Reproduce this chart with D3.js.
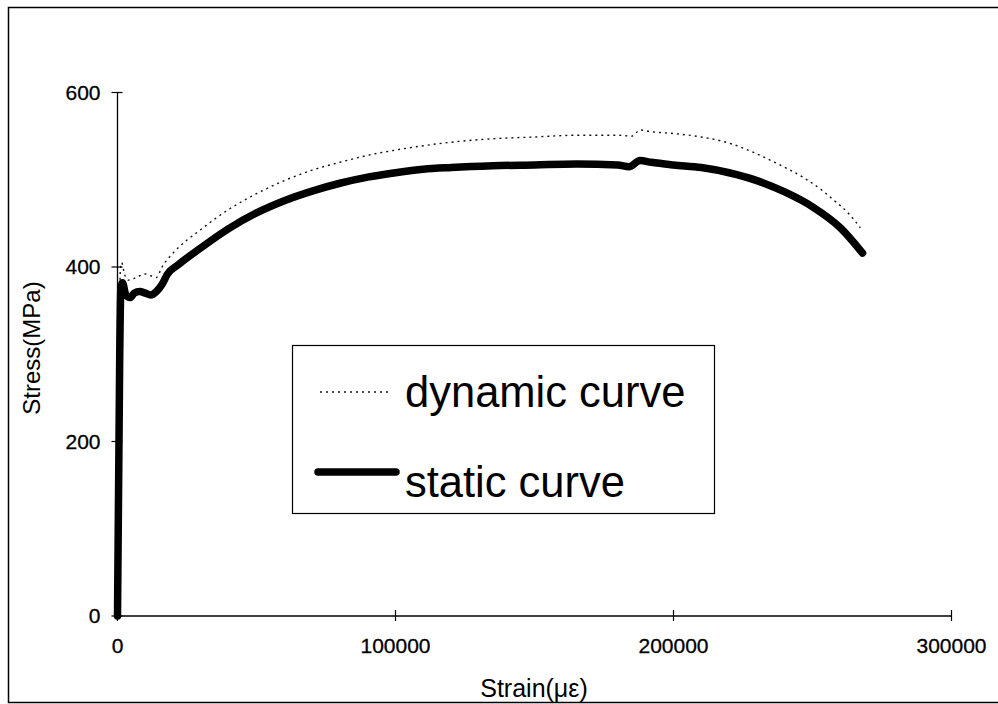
<!DOCTYPE html>
<html>
<head>
<meta charset="utf-8">
<script src="https://cdn.jsdelivr.net/npm/d3@7"></script>
<style>
  html, body { margin: 0; padding: 0; background: #fff; }
  svg { display: block; font-family: "Liberation Sans", Arial, sans-serif; }
</style>
</head>
<body>
<svg id="chart" width="998" height="704"></svg>
<script>
// Stress–strain curves (strain in microstrain, stress in MPa)
const staticStrain = [0, 800, 1200, 1800, 3000, 4500, 6000, 8000, 10000, 12000, 14000, 16000, 18000, 22000, 30000, 40000, 50000, 60000, 70000, 80000, 90000, 100000, 110000, 120000, 135000, 150000, 165000, 180000, 184000, 188000, 192000, 200000, 210000, 220000, 230000, 240000, 250000, 260000, 268000];
const staticStress = [0, 300, 375, 382, 368, 365, 370, 372, 370, 368, 372, 380, 392, 403, 422, 444, 462, 476, 487, 496, 503, 508, 512, 514, 516, 517, 518, 517, 515, 522, 520, 517, 514, 508, 499, 486, 469, 445, 416];

const dynamicStrain = [0, 600, 1000, 1500, 2500, 4000, 6000, 8000, 10000, 12000, 14000, 16000, 20000, 30000, 40000, 50000, 60000, 70000, 80000, 90000, 100000, 110000, 120000, 135000, 150000, 165000, 180000, 185000, 188000, 192000, 200000, 210000, 220000, 229000, 237000, 247000, 253000, 257500, 262500, 267200];
const dynamicStress = [0, 300, 395, 405, 392, 385, 387, 390, 392, 390, 388, 400, 416, 443, 466, 484, 499, 511, 520, 528, 534, 539, 543, 547, 549, 551, 551, 550, 557, 555, 553, 549, 542, 531, 519, 502, 489, 477, 463, 445];

const xTicks = [0, 100000, 200000, 300000];
const yTicks = [0, 200, 400, 600];
const seriesNames = ["dynamic curve", "static curve"];

const svg = d3.select("#chart");

// outer frame (runs off the right edge)
svg.append("rect")
  .attr("x", 8.5).attr("y", 7.5)
  .attr("width", 1010).attr("height", 695)
  .attr("fill", "none").attr("stroke", "#000").attr("stroke-width", 1.5);

const x = d3.scaleLinear().domain([0, 300000]).range([117.5, 951.5]);
const y = d3.scaleLinear().domain([0, 600]).range([616, 92.5]);

// axes with ticks crossing the axis line
const xAxis = svg.append("g").attr("transform", "translate(0,616)");
xAxis.append("line").attr("x1", x(0)).attr("x2", x(300000))
  .attr("stroke", "#000").attr("stroke-width", 1.3);
xAxis.selectAll("line.tick").data(xTicks).join("line")
  .attr("class", "tick")
  .attr("x1", d => x(d)).attr("x2", d => x(d))
  .attr("y1", -6).attr("y2", 5)
  .attr("stroke", "#000").attr("stroke-width", 1.2);
xAxis.selectAll("text").data(xTicks).join("text")
  .attr("x", d => x(d)).attr("y", 37)
  .attr("text-anchor", "middle")
  .attr("font-size", 21)
  .attr("stroke", "#000").attr("stroke-width", 0.3)
  .text(d => d3.format("d")(d));

const yAxis = svg.append("g").attr("transform", "translate(117.5,0)");
yAxis.append("line").attr("y1", y(0)).attr("y2", y(600))
  .attr("stroke", "#000").attr("stroke-width", 1.3);
yAxis.selectAll("line.tick").data(yTicks).join("line")
  .attr("class", "tick")
  .attr("y1", d => y(d)).attr("y2", d => y(d))
  .attr("x1", -6).attr("x2", 5)
  .attr("stroke", "#000").attr("stroke-width", 1.2);
yAxis.selectAll("text").data(yTicks).join("text")
  .attr("x", -17).attr("y", d => y(d))
  .attr("dy", "0.35em")
  .attr("text-anchor", "end")
  .attr("font-size", 21)
  .attr("stroke", "#000").attr("stroke-width", 0.3)
  .text(d => d);

// axis titles
svg.append("text")
  .attr("x", 534).attr("y", 697)
  .attr("text-anchor", "middle")
  .attr("font-size", 25)
  .text("Strain(με)");
svg.append("text")
  .attr("transform", "translate(40,348) rotate(-90)")
  .attr("text-anchor", "middle")
  .attr("font-size", 24)
  .text("Stress(MPa)");

const line = d3.line()
  .x(d => x(d[0]))
  .y(d => y(d[1]))
  .curve(d3.curveMonotoneX);

const dynamicData = dynamicStrain.map((s, i) => [s, dynamicStress[i]]);
const staticData = staticStrain.map((s, i) => [s, staticStress[i]]);

svg.append("path")
  .datum(dynamicData)
  .attr("d", line)
  .attr("fill", "none")
  .attr("stroke", "#111")
  .attr("stroke-width", 1.4)
  .attr("stroke-dasharray", "2,4");

svg.append("path")
  .datum(staticData)
  .attr("d", line)
  .attr("fill", "none")
  .attr("stroke", "#000")
  .attr("stroke-width", 7.5)
  .attr("stroke-linejoin", "round")
  .attr("stroke-linecap", "round");

// legend
const legend = svg.append("g");
legend.append("rect")
  .attr("x", 292.5).attr("y", 345.5)
  .attr("width", 422).attr("height", 168)
  .attr("fill", "#fff").attr("stroke", "#000").attr("stroke-width", 1.2);
legend.append("line")
  .attr("x1", 320).attr("x2", 392).attr("y1", 392).attr("y2", 392)
  .attr("stroke", "#111").attr("stroke-width", 1.4).attr("stroke-dasharray", "2,4");
legend.append("line")
  .attr("x1", 318).attr("x2", 396).attr("y1", 472).attr("y2", 472)
  .attr("stroke", "#000").attr("stroke-width", 7.5).attr("stroke-linecap", "round");
legend.selectAll("text").data(seriesNames).join("text")
  .attr("x", 405)
  .attr("y", (d, i) => i === 0 ? 407 : 497)
  .attr("font-size", 43.5)
  .text(d => d);
</script>
</body>
</html>
